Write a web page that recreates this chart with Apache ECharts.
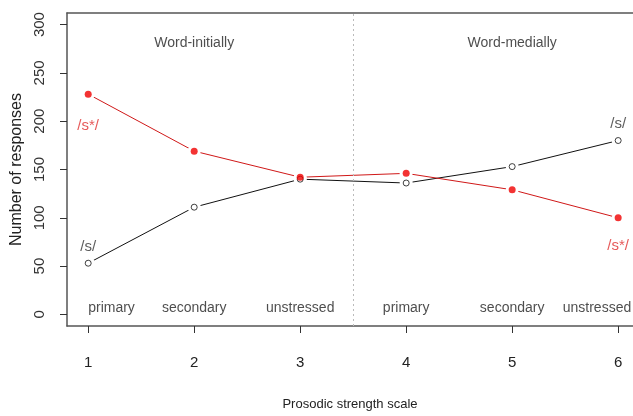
<!DOCTYPE html>
<html>
<head>
<meta charset="utf-8">
<script src="https://cdn.jsdelivr.net/npm/echarts@6/dist/echarts.min.js"></script>
<style>
  html, body { margin: 0; padding: 0; background: #fff; }
  #main { width: 633px; height: 416px; }
</style>
</head>
<body>
<div id="main"></div>
<script>
// prosodic strength positions and response counts
const xs = [1, 2, 3, 4, 5, 6];
const sStar = [228, 169, 142, 146, 129, 100];
const sPlain = [53, 111, 140, 136, 153, 180];
const stressLabels = ['primary', 'secondary', 'unstressed', 'primary', 'secondary', 'unstressed'];
const contextLabels = ['Word-initially', 'Word-medially'];
const yTicks = [0, 50, 100, 150, 200, 250, 300];

const FONT = '"Liberation Sans", Arial, sans-serif';

const pts = arr => xs.map((x, i) => [x, arr[i]]);

// invisible points that only carry a text label
const textSeries = (data, color, size) => ({
  type: 'scatter',
  symbol: 'circle',
  symbolSize: 1,
  silent: true,
  z: 5,
  itemStyle: { color: 'rgba(0,0,0,0)' },
  label: {
    show: true,
    position: 'inside',
    formatter: p => p.value[2],
    fontFamily: FONT,
    fontSize: size || 14,
    color: color
  },
  data: data
});

// first label starts at x = 1, last one is pulled in from the edge
const stressData = xs.map((x, i) => {
  if (i === 0) return { value: [x, 7, stressLabels[i]], label: { align: 'left' } };
  return { value: [i === 5 ? 5.8 : x, 7, stressLabels[i]] };
});

const edge = { show: true, onZero: false, lineStyle: { color: '#555', width: 1.5 } };

const option = {
  backgroundColor: '#fff',
  animation: false,
  grid: { left: 67, top: 13, right: 0, bottom: 88 },
  xAxis: [{
    type: 'value',
    min: 0.8, max: 6.14,
    name: 'Prosodic strength scale',
    nameLocation: 'middle',
    nameGap: 72,
    nameTextStyle: { fontFamily: FONT, fontSize: 13, color: '#222' },
    axisLine: edge,
    splitLine: { show: false },
    axisTick: { show: true, customValues: xs, length: 7, lineStyle: { color: '#333' } },
    axisLabel: {
      customValues: xs, margin: 29,
      fontFamily: FONT, fontSize: 15, color: '#222'
    }
  }, {
    // top edge of the box
    type: 'value',
    position: 'top',
    min: 0.8, max: 6.14,
    axisLine: edge,
    axisTick: { show: false },
    axisLabel: { show: false },
    splitLine: { show: false }
  }],
  yAxis: {
    type: 'value',
    min: -12, max: 312,
    name: 'Number of responses',
    nameLocation: 'middle',
    nameRotate: 90,
    nameGap: 41,
    nameTextStyle: { fontFamily: FONT, fontSize: 16, color: '#222' },
    axisLine: edge,
    splitLine: { show: false },
    axisTick: { show: true, customValues: yTicks, length: 7, lineStyle: { color: '#333' } },
    axisLabel: {
      customValues: yTicks, rotate: 90, margin: 20,
      fontFamily: FONT, fontSize: 15, color: '#333'
    }
  },
  series: [
    {
      type: 'line',
      data: pts(sPlain),
      symbol: 'none',
      z: 2,
      lineStyle: { color: '#111', width: 1 },
      markLine: {
        silent: true,
        symbol: 'none',
        label: { show: false },
        lineStyle: { color: '#bbb', type: [2, 3], width: 1 },
        data: [{ xAxis: 3.5 }]
      }
    },
    {
      type: 'line',
      data: pts(sStar),
      symbol: 'none',
      z: 2,
      lineStyle: { color: '#d01818', width: 1 }
    },
    {
      // white gaps round the points, like R's type = "b"
      type: 'scatter',
      data: pts(sPlain).concat(pts(sStar)),
      symbol: 'circle',
      symbolSize: 13,
      z: 3,
      silent: true,
      itemStyle: { color: '#fff', opacity: 1 }
    },
    {
      type: 'scatter',
      data: pts(sPlain),
      symbol: 'circle',
      symbolSize: 6,
      z: 4,
      itemStyle: { color: '#fff', borderColor: '#111', borderWidth: 1 }
    },
    {
      type: 'scatter',
      data: pts(sStar),
      symbol: 'circle',
      symbolSize: 7,
      z: 4,
      itemStyle: { color: '#f00000' }
    },
    textSeries(stressData, '#222'),
    textSeries([[2, 281, contextLabels[0]], [5, 281, contextLabels[1]]], '#222'),
    textSeries([[1, 70, '/s/'], [6, 197, '/s/']], '#333', 15),
    textSeries([[1, 195, '/s*/'], [6, 71, '/s*/']], '#e03030', 15)
  ]
};

const myChart = echarts.init(document.getElementById('main'));
myChart.setOption(option);
</script>
</body>
</html>
